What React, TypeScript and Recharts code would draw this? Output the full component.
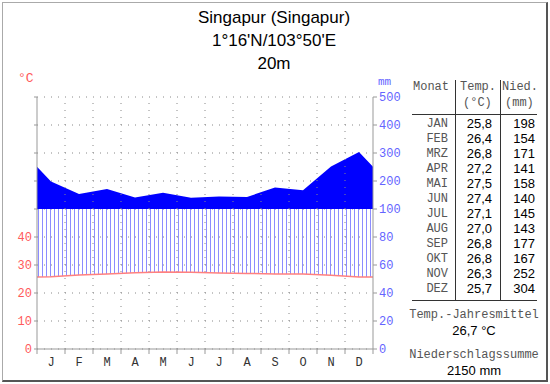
import React from "react"
import {
  ComposedChart,
  Area,
  Line,
  XAxis,
  YAxis,
  CartesianGrid,
  ReferenceLine,
} from "recharts"

// Klimadiagramm Singapur (Walter/Lieth)
const MONTH_LETTERS = ["J", "F", "M", "A", "M", "J", "J", "A", "S", "O", "N", "D"]
const MONTH_NAMES = ["JAN", "FEB", "MRZ", "APR", "MAI", "JUN", "JUL", "AUG", "SEP", "OKT", "NOV", "DEZ"]
const TEMP = [25.8, 26.4, 26.8, 27.2, 27.5, 27.4, 27.1, 27.0, 26.8, 26.8, 26.3, 25.7]
const PRECIP = [198, 154, 171, 141, 158, 140, 145, 143, 177, 167, 252, 304]
// values at the Dec/Jan edges
const EDGE_TEMP = 25.75
const EDGE_PRECIP = 251
const SCALE_TICKS = [0, 10, 20, 30, 40, 50, 60, 70, 80, 90]
const BOUNDARY_TICKS = [0, 1, 2, 3, 4, 5, 6, 7, 8, 9, 10, 11, 12]
const LABEL_TICKS = [0.5, 1.5, 2.5, 3.5, 4.5, 5.5, 6.5, 7.5, 8.5, 9.5, 10.5, 11.5]
const TITLE = ["Singapur (Singapur)", "1°16'N/103°50'E", "20m"]
const MEAN_TEMP = "26,7 °C"
const PRECIP_SUM = "2150 mm"

// 20 mm per 10 °C up to 100 mm, above that 1/10 scale
const mmToScale = (p: number) => (p <= 100 ? p / 2 : 50 + (p - 100) / 10)
const scaleToMm = (v: number) => (v <= 50 ? v * 2 : 100 + (v - 50) * 10)

const fmt = (n: number) => n.toFixed(1).replace(".", ",")

const data = [
  { x: 0, t: EDGE_TEMP, p: mmToScale(EDGE_PRECIP) },
  ...TEMP.map((t, i) => ({ x: i + 0.5, t, p: mmToScale(PRECIP[i]) })),
  { x: 12, t: EDGE_TEMP, p: mmToScale(EDGE_PRECIP) },
]

const mono = "'Liberation Mono', 'Courier New', monospace"
const sans = "'Liberation Sans', Arial, sans-serif"

const txt = (
  text: string,
  left: number,
  cy: number,
  opts: { align?: "left" | "right" | "center"; width?: number; font?: string; size?: number; color?: string } = {}
) => {
  const { align = "left", width = 0, font = mono, size = 12, color = "#555" } = opts
  const style: React.CSSProperties = {
    position: "absolute",
    top: cy - 10,
    height: 20,
    lineHeight: "20px",
    fontFamily: font,
    fontSize: size,
    color,
    whiteSpace: "nowrap",
  }
  if (align === "left") style.left = left
  else if (align === "right") style.right = 550 - left
  else {
    style.left = left - width / 2
    style.width = width
    style.textAlign = "center"
  }
  return <div style={style}>{text}</div>
}

export default function App() {
  const rowY = (i: number) => 123.5 + i * 15

  return (
    <div style={{ position: "absolute", left: 0, top: 0, width: 550, height: 384, background: "#fff" }}>
      <svg width={0} height={0} style={{ position: "absolute" }}>
        <defs>
          <pattern id="hatch" patternUnits="userSpaceOnUse" width={4} height={8}>
            <rect x={2} y={0} width={1} height={8} fill="#8c8cff" />
          </pattern>
        </defs>
      </svg>

      {/* frame */}
      <div
        style={{
          position: "absolute",
          left: 2,
          top: 2,
          width: 543,
          height: 377,
          borderTop: "1px solid #aaa",
          borderLeft: "1px solid #aaa",
          borderRight: "2px solid #555",
          borderBottom: "2px solid #555",
        }}
      />

      {/* title */}
      {TITLE.map((line, i) => (
        <React.Fragment key={line}>
          {txt(line, 274, 18 + i * 23, { align: "center", width: 300, font: sans, size: 17, color: "#000" })}
        </React.Fragment>
      ))}

      <div style={{ position: "absolute", left: 0, top: 0 }}>
        <ComposedChart width={550} height={384} data={data} margin={{ top: 97, right: 0, left: 0, bottom: 0 }}>
          <CartesianGrid stroke="#888" strokeDasharray="1 6" vertical={false} />
          {/* month boundaries as dotted vertical lines */}
          {BOUNDARY_TICKS.slice(1, -1).map((v) => (
            <ReferenceLine key={v} x={v} stroke="#888" strokeDasharray="1 6" />
          ))}
          <XAxis
            type="number"
            dataKey="x"
            domain={[0, 12]}
            ticks={BOUNDARY_TICKS}
            interval={0}
            height={6}
            tickFormatter={() => ""}
            tickSize={5}
            tickMargin={0}
            stroke="#999"
          />
          <XAxis
            xAxisId="m"
            type="number"
            dataKey="x"
            domain={[0, 12]}
            ticks={LABEL_TICKS}
            interval={0}
            height={29}
            axisLine={false}
            tickLine={false}
            tickSize={0}
            tickMargin={2}
            tickFormatter={(v: number) => MONTH_LETTERS[Math.floor(v)]}
            tick={{ fontSize: 12, fontFamily: mono, fill: "#333" }}
          />
          <YAxis
            domain={[0, 90]}
            ticks={SCALE_TICKS}
            interval={0}
            width={37}
            tickSize={3}
            tickMargin={2}
            stroke="#999"
            tickFormatter={(v: number) => (v <= 40 ? String(v) : "")}
            tick={{ fontSize: 12, fontFamily: mono, fill: "#ff5a5a" }}
          />
          <YAxis
            yAxisId="r"
            orientation="right"
            domain={[0, 90]}
            ticks={SCALE_TICKS}
            interval={0}
            width={177}
            tickSize={4}
            tickMargin={2}
            stroke="#999"
            tickFormatter={(v: number) => String(scaleToMm(v))}
            tick={{ fontSize: 12, fontFamily: mono, fill: "#6464ff" }}
          />
          <Area
            type="linear"
            dataKey={(d: { t: number }) => [d.t, 50]}
            fill="url(#hatch)"
            fillOpacity={1}
            stroke="none"
            isAnimationActive={false}
          />
          <Area
            yAxisId="r"
            type="linear"
            dataKey={(d: { p: number }) => [50, d.p]}
            fill="#0000ff"
            fillOpacity={1}
            stroke="none"
            isAnimationActive={false}
          />
          <Line type="linear" dataKey="t" stroke="#ff8080" strokeWidth={1.5} dot={false} isAnimationActive={false} />
        </ComposedChart>
      </div>

      {/* axis units */}
      {txt("°C", 18, 79, { color: "#ff5a5a", size: 13 })}
      {txt("mm", 378, 82, { color: "#6464ff", size: 11 })}

      {/* table */}
      <div style={{ position: "absolute", left: 455, top: 80, width: 1, height: 220, background: "#333" }} />
      <div style={{ position: "absolute", left: 500, top: 80, width: 1, height: 220, background: "#333" }} />
      <div style={{ position: "absolute", left: 412, top: 114, width: 125, height: 1, background: "#333" }} />
      <div style={{ position: "absolute", left: 412, top: 300, width: 125, height: 1, background: "#333" }} />

      {txt("Monat", 413, 87)}
      {txt("Temp.", 460, 87)}
      {txt("(°C)", 463, 103)}
      {txt("Nied.", 502, 87)}
      {txt("(mm)", 505, 103)}

      {MONTH_NAMES.map((m, i) => (
        <React.Fragment key={m}>
          {txt(m, 448, rowY(i), { align: "right" })}
          {txt(fmt(TEMP[i]), 492, rowY(i), { align: "right", font: sans, size: 13, color: "#000" })}
          {txt(String(PRECIP[i]), 535, rowY(i), { align: "right", font: sans, size: 13, color: "#000" })}
        </React.Fragment>
      ))}

      {txt("Temp.-Jahresmittel", 474, 315, { align: "center", width: 140 })}
      {txt(MEAN_TEMP, 474, 331, { align: "center", width: 140, font: sans, size: 13, color: "#000" })}
      {txt("Niederschlagssumme", 474, 355, { align: "center", width: 140 })}
      {txt(PRECIP_SUM, 474, 371, { align: "center", width: 140, font: sans, size: 13, color: "#000" })}
    </div>
  )
}
